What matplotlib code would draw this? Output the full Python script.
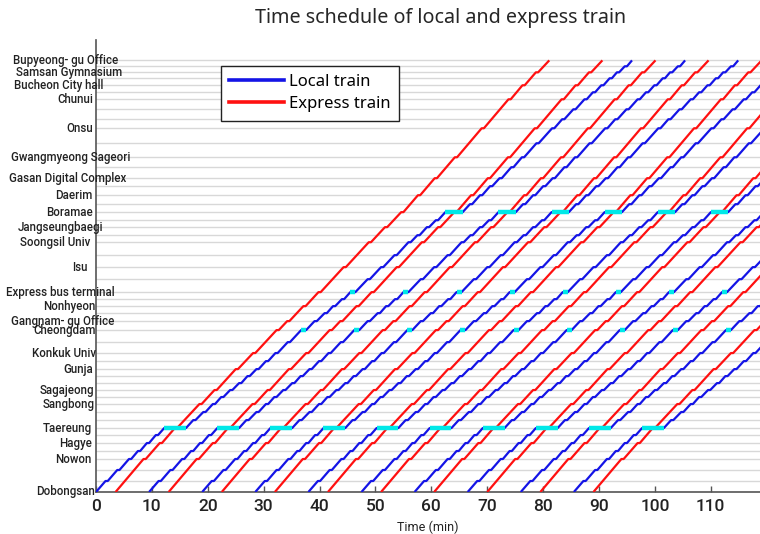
import matplotlib
matplotlib.use('Agg')
import matplotlib.pyplot as plt
import matplotlib.transforms as mtransforms
from matplotlib.lines import Line2D

# ---------------- data ----------------
stations = ["Dobongsan", "Suraksan", "Madeul", "Nowon", "Junggye", "Hagye", "Gongneung",
            "Taereung", "Meokgol", "Junghwa", "Sangbong", "Myeonmok", "Sagajeong", "Yongmasan",
            "Junggok", "Gunja", "Children's Grand Park", "Konkuk Univ", "Ttukseom Resort",
            "Cheongdam", "Gangnam-gu Office", "Hakdong", "Nonhyeon", "Banpo",
            "Express bus terminal", "Naebang", "Isu", "Namseong", "Soongsil Univ", "Sangdo",
            "Jangseungbaegi", "Sindaebang Samgeori", "Boramae", "Sinpung", "Daerim", "Namguro",
            "Gasan Digital Complex", "Cheolsan", "Gwangmyeong Sageori", "Cheonwang", "Onsu",
            "Kkachiul", "Bucheon Stadium", "Chunui", "Sinjung-dong", "Bucheon City hall",
            "Sang-dong", "Samsan Gymnasium", "Gulpocheon", "Bupyeong-gu Office"]
station_km = [0.0, 1.35, 2.7, 4.05, 5.03, 6.01, 6.99, 7.85, 8.83, 9.82, 10.8, 11.66, 12.52,
              13.37, 14.23, 15.09, 16.07, 17.06, 18.4, 19.88, 20.98, 21.96, 22.82, 23.68,
              24.54, 26.13, 27.61, 29.08, 30.67, 31.53, 32.52, 33.37, 34.36, 35.34, 36.44,
              37.55, 38.53, 39.88, 41.1, 42.82, 44.66, 45.77, 46.99, 48.22, 49.08, 49.94,
              50.8, 51.53, 52.27, 53.0]

# y tick labels (express stops)
label_texts = ["Dobongsan", "Nowon", "Hagye", "Taereung", "Sangbong", "Sagajeong", "Gunja",
               "Konkuk Univ", "Cheongdam", "Gangnam- gu Office", "Nonhyeon",
               "Express bus terminal", "Isu", "Soongsil Univ", "Jangseungbaegi", "Boramae",
               "Daerim", "Gasan Digital Complex", "Gwangmyeong Sageori", "Onsu", "Chunui",
               "Bucheon City hall", "Samsan Gymnasium", "Bupyeong- gu Office"]
express_stops = [0, 3, 5, 7, 10, 12, 15, 17, 19, 20, 22, 24, 26, 28, 30, 32, 34, 36, 38,
                 40, 43, 45, 47, 49]

# local train running profile (min after departure from Dobongsan)
local_arr = [0.0, 1.7, 3.8, 5.9, 7.5, 9.1, 10.7, 12.2, 17.4, 19.2, 20.9, 22.4, 24.0, 25.6,
             27.1, 28.7, 30.4, 32.1, 34.3, 36.7, 39.1, 40.9, 42.4, 44.0, 45.5, 48.6, 51.0,
             53.4, 55.9, 57.5, 59.2, 60.8, 62.5, 66.9, 68.7, 70.5, 72.2, 74.3, 76.2, 78.8,
             81.6, 83.4, 85.4, 87.4, 88.9, 90.4, 91.9, 93.2, 94.6, 95.9]
local_dep = [0.0, 2.1, 4.2, 6.3, 7.9, 9.5, 11.1, 16.1, 17.8, 19.6, 21.3, 22.8, 24.4, 26.0,
             27.5, 29.1, 30.8, 32.5, 34.7, 37.6, 39.5, 41.3, 42.8, 44.4, 46.4, 49.0, 51.4,
             53.8, 56.3, 57.9, 59.6, 61.2, 65.6, 67.3, 69.1, 70.9, 72.6, 74.7, 76.6, 79.2,
             82.0, 83.8, 85.8, 87.8, 89.3, 90.8, 92.3, 93.6, 95.0, 95.9]
local_hold = [7, 19, 24, 32]   # stations where the local waits (cyan)

# express train running profile (express stops only)
express_arr = [0.0, 5.0, 7.9, 10.6, 15.0, 17.7, 21.5, 24.6, 28.8, 30.7, 33.6, 36.3, 40.8,
               45.3, 48.2, 51.1, 54.1, 57.1, 60.7, 65.5, 70.3, 72.8, 75.2, 77.6]
express_dep = [0.0, 5.4, 8.3, 11.0, 15.4, 18.1, 21.9, 25.0, 29.2, 31.1, 34.0, 36.7, 41.2,
               45.7, 48.6, 51.5, 54.5, 57.5, 61.1, 65.9, 70.7, 73.2, 75.6, 77.6]

local_start = [0.0, 9.5, 19.0, 28.5, 38.0, 47.5, 57.0, 66.5, 76.0, 85.5]
express_start = [3.5, 13.0, 22.5, 32.0, 41.5, 51.0, 60.5, 70.0, 79.5, 89.0]

xticks = [0, 10, 20, 30, 40, 50, 60, 70, 80, 90, 100, 110]

# ---------------- layout ----------------
W, H = 760, 534
fig = plt.figure(figsize=(W / 100, H / 100), dpi=100)
ax_left, ax_right, ax_bottom, ax_top = 96, 766.7, 492, 40
ax = fig.add_axes([ax_left / W, 1 - ax_bottom / H, (ax_right - ax_left) / W,
                   (ax_bottom - ax_top) / H])
ax.set_xlim(0, 120)
ax.set_ylim(0, 55.5)

BLUE = '#1414e6'
RED = '#ff1010'
CYAN = '#00e8e8'
GRID = '#d8d8d8'
TXT = '#222222'
LBL_FONT = ['Roboto', 'DejaVu Sans']

for y in station_km:
    ax.axhline(y, color=GRID, lw=1.0, zorder=1)

# local trains
for t0 in local_start:
    xs, ys = [], []
    for i, y in enumerate(station_km):
        xs += [t0 + local_arr[i], t0 + local_dep[i]]
        ys += [y, y]
    ax.plot(xs, ys, color=BLUE, lw=1.6, zorder=3, solid_capstyle='butt')
    for i in local_hold:
        ax.plot([t0 + local_arr[i], t0 + local_dep[i]], [station_km[i]] * 2,
                color=CYAN, lw=3.2, zorder=4, solid_capstyle='butt')

# express trains
for t0 in express_start:
    xs, ys = [], []
    for j, i in enumerate(express_stops):
        xs += [t0 + express_arr[j], t0 + express_dep[j]]
        ys += [station_km[i], station_km[i]]
    ax.plot(xs, ys, color=RED, lw=1.6, zorder=3, solid_capstyle='butt')

# axes styling
for s in ['top', 'right']:
    ax.spines[s].set_visible(False)
ax.spines['left'].set_color('#555555')
ax.spines['bottom'].set_color('#555555')
ax.spines['left'].set_linewidth(1.2)
ax.spines['bottom'].set_linewidth(1.2)
ax.set_xticks(xticks)
ax.set_xticklabels([str(v) for v in xticks], fontsize=12.5, family=LBL_FONT,
                   fontweight='medium', color=TXT)
ax.tick_params(axis='x', direction='in', length=4, width=1, color='#555555', pad=5)
ax.set_yticks([])
ax.set_xlabel('Time (min)', fontsize=9, family=LBL_FONT, color=TXT)
ax.xaxis.set_label_coords((428 - ax_left) / (ax_right - ax_left), -0.063)

# station labels
label_right_px = [95, 92, 92, 92, 95, 94, 93, 96, 96, 114, 95, 115, 88, 90, 103, 93, 92,
                  126, 130, 93, 93, 103, 122, 118]
trans = mtransforms.blended_transform_factory(fig.transFigure, ax.transData)
for txt, idx, rpx in zip(label_texts, express_stops, label_right_px):
    ax.text(rpx / W, station_km[idx], txt, transform=trans, ha='right', va='center',
            fontsize=8.3, family=LBL_FONT, fontweight='medium', color=TXT, zorder=6,
            clip_on=False)

fig.text(441 / W, 1 - 18 / H, 'Time schedule of local and express train', ha='center',
         va='center', fontsize=14.2, family='Noto Sans', color='#262626')

handles = [Line2D([], [], color=BLUE, lw=2.6), Line2D([], [], color=RED, lw=2.6)]
leg = ax.legend(handles, ['Local train', 'Express train'], loc='upper left',
                bbox_to_anchor=(221 / W, 1 - 66 / H), bbox_transform=fig.transFigure,
                prop={'family': 'Noto Sans', 'size': 12}, frameon=True,
                fancybox=False, edgecolor='#222222', framealpha=1, borderaxespad=0,
                handlelength=3.3, handletextpad=0.3, borderpad=0.5, labelspacing=0.36)
leg.get_frame().set_linewidth(1.0)
leg.set_zorder(10)

fig.savefig('out.png', dpi=100)
